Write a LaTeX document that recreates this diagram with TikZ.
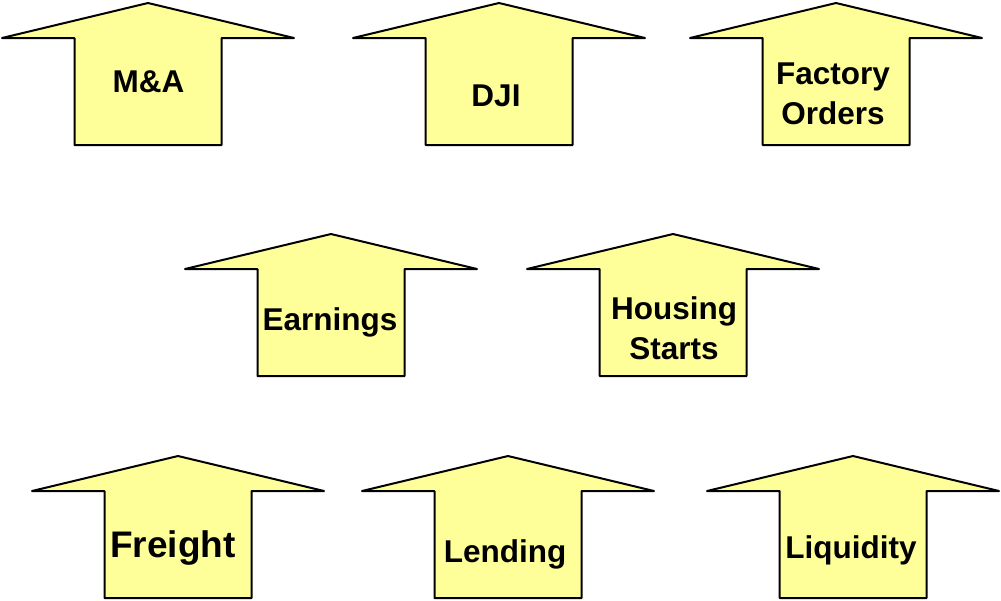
\documentclass[tikz,border=0pt]{standalone}
\usepackage{fontspec}
\setmainfont{Liberation Sans}
\tikzset{
  arrowshape/.style={draw=black, line width=2pt, fill=arrowfill, line join=round},
  lbl/.style={font=\bfseries\fontsize{31.5}{40}\selectfont, anchor=base, align=center, inner sep=0pt},
}
\definecolor{arrowfill}{RGB}{255,255,153}
\newcommand\myarrow[2]{%
  \path[arrowshape] (#1-146,#2+35) -- (#1,#2) -- (#1+146,#2+35) -- (#1+73.5,#2+35)
    -- (#1+73.5,#2+142) -- (#1-73.5,#2+142) -- (#1-73.5,#2+35) -- cycle;}
\begin{document}
\begin{tikzpicture}[x=1pt,y=-1pt]
\useasboundingbox (0,0) rectangle (1001,600);
\myarrow{148}{3}
\myarrow{499}{3}
\myarrow{836}{3}
\myarrow{331}{234}
\myarrow{673}{234}
\myarrow{178}{456}
\myarrow{508}{456}
\myarrow{853}{456}
\node[lbl] (ma) at (148.5,92) {M\&A};
\node[lbl] (dji) at (496,106) {DJI};
\node[lbl] (fo) at (833,124) {Factory\\Orders};
\node[lbl] (earn) at (330,330) {Earnings};
\node[lbl] (hs) at (674,359) {Housing\\Starts};
\node[lbl, font=\bfseries\fontsize{37}{44}\selectfont] (fr) at (173,557) {Freight};
\node[lbl] (lend) at (505,562) {Lending};
\node[lbl] (liq) at (851,558) {Liquidity};
\end{tikzpicture}
\end{document}
